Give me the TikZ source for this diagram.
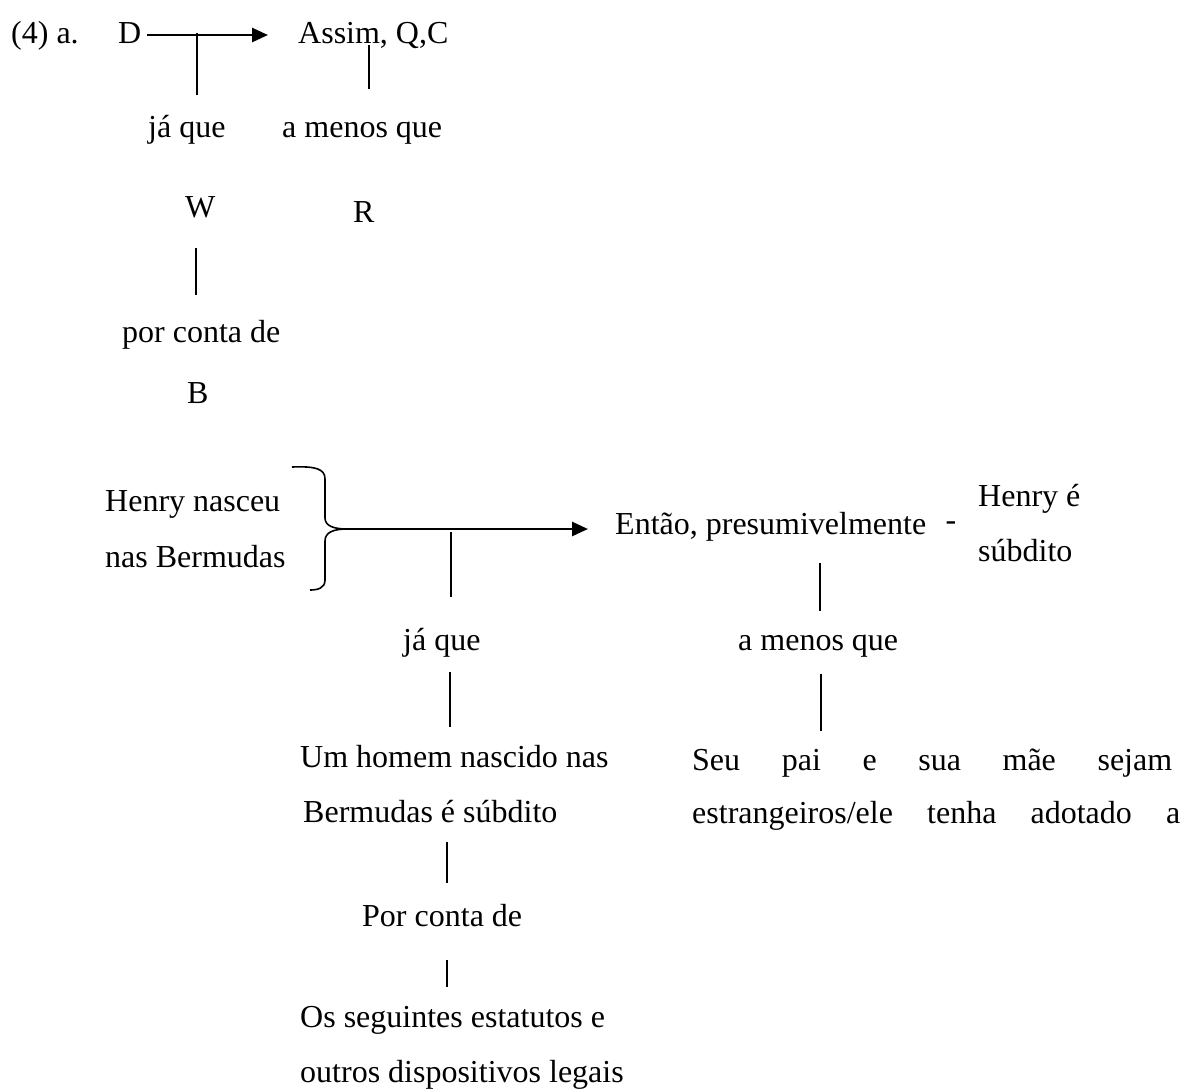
\documentclass[tikz,border=0pt]{standalone}
\usepackage{fontspec}
\setmainfont{Liberation Serif}
\usetikzlibrary{arrows.meta}
\begin{document}
\begin{tikzpicture}[x=1pt,y=-1pt,
  txt/.style={inner sep=0pt,anchor=base west,font=\fontsize{32}{40}\selectfont},
  vline/.style={line width=1.7pt},
  arr/.style={line width=2.6pt,-{Triangle[length=16pt,width=14pt]}},
  brace/.style={line width=1.6pt}]
\useasboundingbox[fill=white] (0,0) rectangle (1184,1088);
% ---------- top schema ----------
\node[txt] (lab) at (11,43) {(4) a.};
\node[txt] (D) at (118,43) {D};
\node[txt] (C) at (298,43) {Assim, Q,C};
\node[txt] (since1) at (148,137) {já que};
\node[txt] (unless1) at (282,137) {a menos que};
\node[txt] (W) at (185,217) {W};
\node[txt] (R) at (353,222) {R};
\node[txt] (oa1) at (122,342) {por conta de};
\node[txt] (B) at (187,403) {B};
\coordinate (a1s) at (147,35);
\coordinate (a1e) at (268,35);
\draw[arr] (a1s) -- (a1e);
\coordinate (v1t) at (197,33); \coordinate (v1b) at (197,95);
\draw[vline] (v1t) -- (v1b);
\coordinate (v2t) at (369,45); \coordinate (v2b) at (369,89);
\draw[vline] (v2t) -- (v2b);
\coordinate (v3t) at (196,248); \coordinate (v3b) at (196,295);
\draw[vline] (v3t) -- (v3b);
% ---------- bottom example ----------
\node[txt] (H1) at (105,511) {Henry nasceu};
\node[txt] (H2) at (105,567) {nas Bermudas};
\node[txt] (Q) at (615,534) {Então, presumivelmente};
\node[txt,anchor=center] (dash) at (951,526) {-};
\node[txt] (S1) at (978,506) {Henry é};
\node[txt] (S2) at (978,561) {súbdito};
\node[txt] (since2) at (403,650) {já que};
\node[txt] (unless2) at (738,650) {a menos que};
\node[txt] (W1) at (300,767) {Um homem nascido nas};
\node[txt] (W2) at (303,822) {Bermudas é súbdito};
\node[txt] (R1) at (692,770) {\hbox to 480pt{Seu\hfill pai\hfill e\hfill sua\hfill mãe\hfill sejam}};
\node[txt] (R2) at (692,823) {\hbox to 488pt{estrangeiros/ele\hfill tenha\hfill adotado\hfill a}};
\node[txt] (oa2) at (362,926) {Por conta de};
\node[txt] (B1) at (300,1027) {Os seguintes estatutos e};
\node[txt] (B2) at (300,1082) {outros dispositivos legais};
% brace
\coordinate (tip) at (347,529);
\draw[brace] (292,467) .. controls (316,466) and (325,469) .. (325,479) -- (325,518)
  .. controls (325,526) and (334,529) .. (tip)
  .. controls (334,529) and (325,532) .. (325,541) -- (325,580)
  .. controls (325,588) and (318,590) .. (310,590);
\coordinate (a2e) at (588,529);
\draw[arr] (tip) -- (a2e);
\coordinate (v4t) at (451,532); \coordinate (v4b) at (451,597);
\draw[vline] (v4t) -- (v4b);
\coordinate (v5t) at (820,563); \coordinate (v5b) at (820,611);
\draw[vline] (v5t) -- (v5b);
\coordinate (v6t) at (450,672); \coordinate (v6b) at (450,727);
\draw[vline] (v6t) -- (v6b);
\coordinate (v7t) at (821,674); \coordinate (v7b) at (821,731);
\draw[vline] (v7t) -- (v7b);
\coordinate (v8t) at (447,842); \coordinate (v8b) at (447,883);
\draw[vline] (v8t) -- (v8b);
\coordinate (v9t) at (447,960); \coordinate (v9b) at (447,987);
\draw[vline] (v9t) -- (v9b);
\end{tikzpicture}
\end{document}
